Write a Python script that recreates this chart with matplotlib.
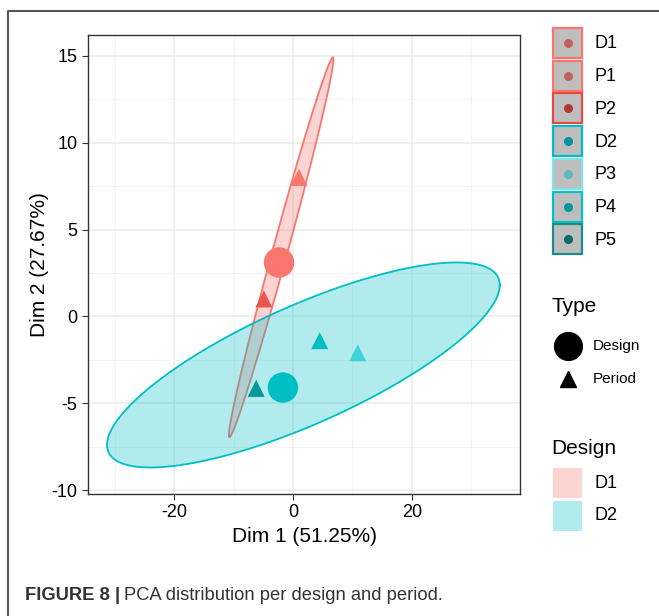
import matplotlib.pyplot as plt
import numpy as np
from matplotlib.patches import Rectangle, Polygon
from matplotlib.lines import Line2D

plt.rcParams["font.family"] = ["Liberation Sans", "DejaVu Sans"]
plt.rcParams["axes.unicode_minus"] = False

# %% Data
labels = ["D1", "P1", "P2", "D2", "P3", "P4", "P5"]
kinds = ["Design", "Period", "Period", "Design", "Period", "Period", "Period"]
dim1 = [-2.35, 1.0, -4.9, -1.7, 10.9, 4.5, -6.2]
dim2 = [3.1, 8.0, 1.0, -4.1, -2.1, -1.4, -4.15]
point_colors = ["#F8766D", "#F8766D", "#E8574D", "#00BFC4", "#3FD3D7", "#00BFC4", "#00979B"]
key_edges = ["#F8766D", "#F8766D", "#E84A40", "#00BFC4", "#7FE2E4", "#00C2C6", "#1E8C8C"]
key_dots = ["#C2625C", "#C2625C", "#B23A32", "#00959A", "#5CBABC", "#00979A", "#0B6B6B"]

designs = ["D1", "D2"]
design_colors = ["#F8766D", "#00BFC4"]
# ellipse: centre, first conjugate semi-axis, second conjugate semi-axis
ell_center = [(-2.0, 3.97), (1.75, -2.8)]
ell_axis_a = [(8.7, 10.93), (33.05, 4.6)]
ell_axis_b = [(1.3, 0.0), (0.0, 3.7)]

# %% Figure
W, H = 659, 616
fig = plt.figure(figsize=(W / 100, H / 100), dpi=100)
ax = fig.add_axes([88 / W, 1 - 494 / H, (520 - 88) / W, (494 - 35) / H])

t = np.linspace(0, 2 * np.pi, 400)
for c, a, b, col in zip(ell_center, ell_axis_a, ell_axis_b, design_colors):
    xs = c[0] + a[0] * np.cos(t) + b[0] * np.sin(t)
    ys = c[1] + a[1] * np.cos(t) + b[1] * np.sin(t)
    ax.add_patch(Polygon(np.column_stack([xs, ys]), closed=True,
                         facecolor=col, alpha=0.3, edgecolor="none", zorder=2))
    ax.plot(xs, ys, color=col, lw=1.3, zorder=2)

for x, y, k, col in zip(dim1, dim2, kinds, point_colors):
    if k == "Design":
        ax.scatter(x, y, s=480, marker="o", color=col, edgecolor="none", zorder=4)
    else:
        ax.scatter(x, y, s=150, marker="^", color=col, edgecolor="none", zorder=4)

ax.set_xlim(-34.5, 38.2)
ax.set_ylim(-10.23, 16.2)
ax.set_xticks([-20, 0, 20])
ax.set_yticks([-10, -5, 0, 5, 10, 15])
ax.set_xticks([-30, -10, 10, 30], minor=True)
ax.set_yticks([-7.5, -2.5, 2.5, 7.5, 12.5], minor=True)
ax.grid(True, which="major", color="#EBEBEB", lw=1.1, zorder=0)
ax.grid(True, which="minor", color="#F2F2F2", lw=0.6, zorder=0)
ax.set_axisbelow(True)
ax.tick_params(which="major", labelsize=13, length=4, color="#333333", labelcolor="black")
ax.tick_params(which="minor", length=0)
for s in ax.spines.values():
    s.set_color("#333333")
    s.set_linewidth(1.0)
ax.set_xlabel("Dim 1 (51.25%)", fontsize=15, labelpad=4)
ax.set_ylabel("Dim 2 (27.67%)", fontsize=15, labelpad=2)


def fx(px):
    return px / W


def fy(py):
    return 1 - py / H


# legend: sample keys
key_h = 32.7
for i, (lab, ec, dc) in enumerate(zip(labels, key_edges, key_dots)):
    top = 28 + i * key_h
    fig.patches.append(Rectangle((fx(553), fy(top + 30)), 29 / W, 30 / H,
                                 transform=fig.transFigure, facecolor="#BEBEBE",
                                 edgecolor=ec, lw=1.6))
    fig.add_artist(Line2D([fx(567.5)], [fy(top + 15)], marker="o", ms=5.5,
                          color=dc, transform=fig.transFigure))
    fig.text(fx(595), fy(top + 16), lab, fontsize=13, va="center", ha="left")

# legend: Type
fig.text(fx(551), fy(307), "Type", fontsize=15, va="center", ha="left")
fig.add_artist(Line2D([fx(568)], [fy(346)], marker="o", ms=20, color="black",
                      transform=fig.transFigure))
fig.text(fx(593), fy(346), "Design", fontsize=11, va="center", ha="left")
fig.add_artist(Line2D([fx(568)], [fy(379)], marker="^", ms=11, color="black",
                      transform=fig.transFigure))
fig.text(fx(593), fy(379), "Period", fontsize=11, va="center", ha="left")

# legend: Design
fig.text(fx(551), fy(448), "Design", fontsize=15, va="center", ha="left")
for i, (lab, col) in enumerate(zip(designs, design_colors)):
    top = 468 + i * 32.5
    fig.patches.append(Rectangle((fx(553), fy(top + 30)), 29 / W, 30 / H,
                                 transform=fig.transFigure, facecolor=col,
                                 alpha=0.3, edgecolor="none"))
    fig.text(fx(595), fy(top + 15), lab, fontsize=13, va="center", ha="left")

# outer frame
fig.add_artist(Line2D([fx(8), fx(8), 1.0], [0.0, fy(11), fy(11)], color="#555555",
                      lw=1.5, transform=fig.transFigure))

# caption
cap = fig.text(fx(25), fy(596), "FIGURE 8 |", fontsize=13.2, fontweight="bold",
               color="#333333", va="center", ha="left")
fig.canvas.draw()
bb = cap.get_window_extent()
fig.text(bb.x1 / W + 4 / W, fy(596), "PCA distribution per design and period.",
         fontsize=13.2, color="#333333", va="center", ha="left")

fig.savefig("out.png", dpi=100)
